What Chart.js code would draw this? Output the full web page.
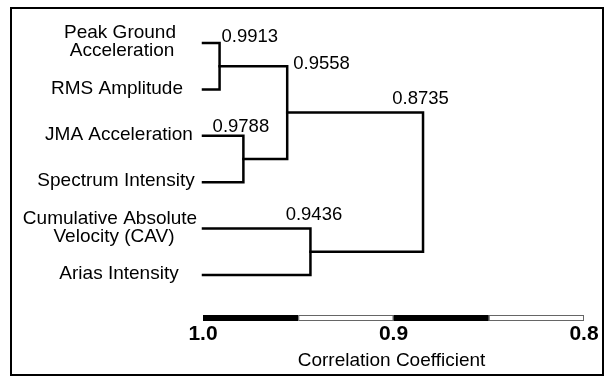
<!DOCTYPE html>
<html>
<head>
<meta charset="utf-8">
<script src="https://cdn.jsdelivr.net/npm/chart.js@4.4.1/dist/chart.umd.min.js"></script>
<style>
  html, body { margin:0; padding:0; background:#fff; }
  #wrap { position:relative; width:607px; height:376px; }
  #frame { position:absolute; left:10px; top:7px; width:590px; height:365px; border:2px solid #000; pointer-events:none; }
</style>
</head>
<body>
<div id="wrap">
  <canvas id="c" width="607" height="376"></canvas>
  <div id="frame"></div>
</div>
<script>
// leaves, top to bottom
const leafNames = [
  ['Peak Ground', 'Acceleration'],
  ['RMS Amplitude'],
  ['JMA Acceleration'],
  ['Spectrum Intensity'],
  ['Cumulative Absolute', 'Velocity (CAV)'],
  ['Arias Intensity']
];
// joins: children are leaf indexes or 'nK' = an earlier join
const joinA = [0, 2, 'n0', 4, 'n2'];
const joinB = [1, 3, 'n1', 5, 'n3'];
const coefLabels = ['0.9913', '0.9788', '0.9558', '0.9436', '0.8735'];
// where the figure actually draws each join (root sits short of its 0.8735 label)
const joinAt = [0.9913, 0.9788, 0.9558, 0.9436, 0.8845];
const axisTicks = [1.0, 0.9, 0.8];
const tickLabels = ['1.0', '0.9', '0.8'];
const barBreaks = [1.0, 0.95, 0.9, 0.85, 0.8];
const axisTitle = 'Correlation Coefficient';

// label placement (style only)
const leafCenter = [[120, 122], [117], [119], [116], [110, 114], [119]];
const labelPlace = [
  { align: 'left', dx: 2, dy: -6 },
  { align: 'center', dx: -2.5, dy: -8.5 },
  { align: 'left', dx: 6, dy: -2.5 },
  { align: 'center', dx: 3.5, dy: -13.5 },
  { align: 'center', dx: -2.5, dy: -14 }
];

const FONT = '"Liberation Sans", Arial, sans-serif';

const nodeX = [], nodeY = [];
function pos(c) {
  if (typeof c === 'number') return { x: 1.0, y: c };
  const k = +c.slice(1);
  return { x: nodeX[k], y: nodeY[k] };
}
const tops = [];
const datasets = joinA.map((a, k) => {
  const A = pos(a), B = pos(joinB[k]);
  nodeX[k] = joinAt[k];
  nodeY[k] = (A.y + B.y) / 2;
  tops.push(A.y);
  return {
    data: [
      { x: A.x, y: A.y }, { x: joinAt[k], y: A.y },
      { x: joinAt[k], y: B.y }, { x: B.x, y: B.y }
    ],
    showLine: true, borderColor: '#000', borderWidth: 2.5,
    pointRadius: 0, tension: 0, clip: false,
    borderCapStyle: 'square', borderJoinStyle: 'miter'
  };
});

const decor = {
  id: 'decor',
  afterDraw(chart) {
    const ctx = chart.ctx, xs = chart.scales.x, ys = chart.scales.y;
    const area = chart.chartArea;
    ctx.save();
    ctx.fillStyle = '#000';

    // leaf names
    ctx.font = '19px ' + FONT;
    ctx.textAlign = 'center';
    ctx.textBaseline = 'middle';
    leafNames.forEach((lines, i) => {
      const py = ys.getPixelForValue(i) - 1;
      lines.forEach((t, j) => {
        ctx.fillText(t, leafCenter[i][j], py + (j - (lines.length - 1) / 2) * 18);
      });
    });

    // join coefficients
    ctx.font = '18.5px ' + FONT;
    coefLabels.forEach((t, k) => {
      const p = labelPlace[k];
      ctx.textAlign = p.align;
      ctx.fillText(t, xs.getPixelForValue(joinAt[k]) + p.dx, ys.getPixelForValue(tops[k]) + p.dy);
    });

    // scale bar
    const barTop = area.bottom + 40, barH = 6;
    for (let i = 0; i < barBreaks.length - 1; i++) {
      const x0 = xs.getPixelForValue(barBreaks[i]);
      const x1 = xs.getPixelForValue(barBreaks[i + 1]);
      if (i % 2 === 0) {
        ctx.fillStyle = '#000';
        ctx.fillRect(x0, barTop, x1 - x0, barH);
      } else {
        ctx.strokeStyle = '#666';
        ctx.lineWidth = 1;
        ctx.strokeRect(x0 + 0.5, barTop + 0.5, x1 - x0 - 1, barH - 1);
      }
    }

    // ticks
    ctx.fillStyle = '#000';
    ctx.font = 'bold 21px ' + FONT;
    ctx.textAlign = 'center';
    axisTicks.forEach((v, i) => {
      ctx.fillText(tickLabels[i], xs.getPixelForValue(v), area.bottom + 59);
    });

    // axis title
    ctx.font = '19px ' + FONT;
    ctx.fillText(axisTitle, (xs.left + xs.right) / 2 - 2, area.bottom + 86);
    ctx.restore();
  }
};

new Chart(document.getElementById('c'), {
  type: 'scatter',
  data: { datasets },
  options: {
    responsive: false,
    animation: false,
    layout: { padding: { left: 203, right: 23, top: 43, bottom: 101 } },
    plugins: { legend: { display: false }, tooltip: { enabled: false } },
    scales: {
      x: { type: 'linear', reverse: true, min: 0.8, max: 1.0, display: false },
      y: { type: 'linear', reverse: true, min: 0, max: 5, display: false }
    }
  },
  plugins: [decor]
});
</script>
</body>
</html>
